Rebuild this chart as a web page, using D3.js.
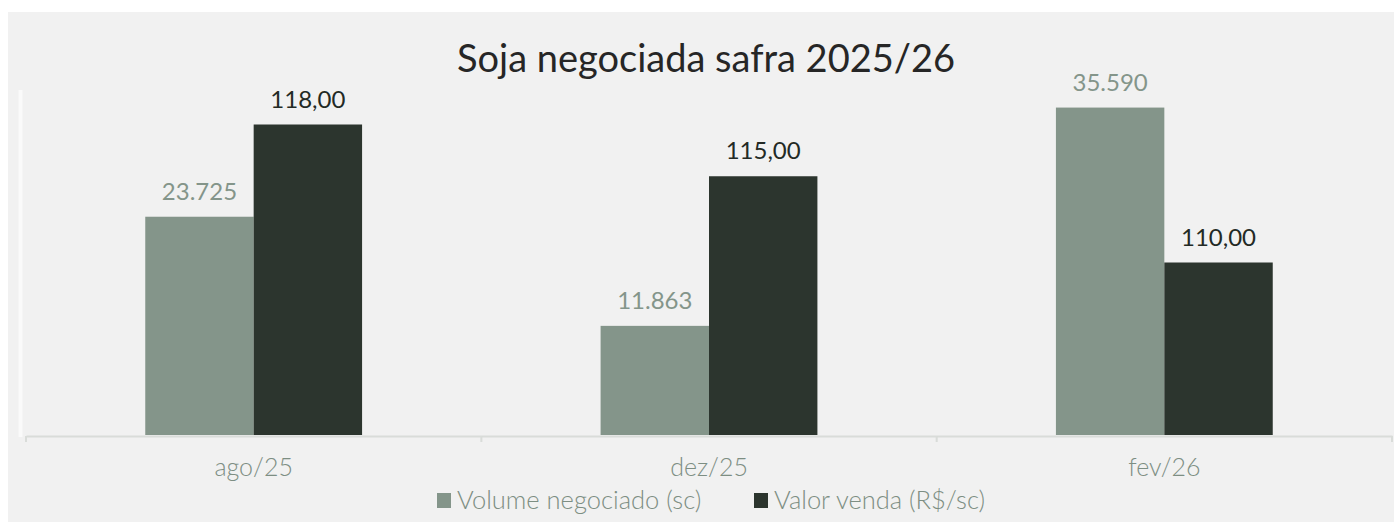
<!DOCTYPE html>
<html>
<head>
<meta charset="utf-8">
<script src="https://cdn.jsdelivr.net/npm/d3@7"></script>
<style>
  body { margin: 0; background: #ffffff; }
  svg { display: block; font-family: "Lato", "Open Sans", sans-serif; }
</style>
</head>
<body>
<svg width="1394" height="522"></svg>
<script>
// chart data
const categories = ["ago/25", "dez/25", "fev/26"];
const volume = [23725, 11863, 35590];
const valor = [118.00, 115.00, 110.00];
const seriesNames = ["Volume negociado (sc)", "Valor venda (R$/sc)"];
const seriesColors = ["#84958a", "#2c352e"];
const labelColors = ["#84958a", "#232a25"];

const svg = d3.select("svg");

// panel background
svg.append("rect")
    .attr("x", 8)
    .attr("y", 12)
    .attr("width", 1386)
    .attr("height", 510)
    .attr("fill", "#f1f1f1");

// plot area
const plot = { left: 26, right: 1392, top: 90, bottom: 435 };

const x = d3.scaleBand()
    .domain(categories)
    .range([plot.left, plot.right]);

const inner = d3.scaleBand()
    .domain([0, 1])
    .range([0, x.bandwidth()])
    .paddingOuter(1.1);

// two hidden value axes (primary for volume, secondary for price)
const yVol = d3.scaleLinear().domain([0, 37500]).range([plot.bottom, plot.top]);
const yVal = d3.scaleLinear().domain([100, 120]).range([plot.bottom, plot.top]);

// faint vertical line at the left of the plot
svg.append("line")
    .attr("x1", 20.5).attr("x2", 20.5)
    .attr("y1", plot.top).attr("y2", plot.bottom + 2)
    .attr("stroke", "#fafafa")
    .attr("stroke-width", 4);

// title
svg.append("text")
    .attr("x", 706)
    .attr("y", 72)
    .attr("text-anchor", "middle")
    .attr("font-size", "38px")
    .attr("fill", "#262626")
    .text("Soja negociada safra 2025/26");

const rows = categories.map((c, i) => ({ cat: c, vals: [volume[i], valor[i]] }));
const scales = [yVol, yVal];
const ptBR = d3.formatLocale({ decimal: ",", thousands: ".", grouping: [3] });
const fmt = [ptBR.format(",.0f"), ptBR.format(",.2f")];

const groups = svg.selectAll(".grp")
    .data(rows)
    .enter()
    .append("g")
    .attr("class", "grp")
    .attr("transform", d => `translate(${x(d.cat)},0)`);

groups.selectAll("rect")
    .data(d => d.vals.map((v, s) => ({ v, s })))
    .enter()
    .append("rect")
    .attr("x", d => inner(d.s))
    .attr("width", inner.bandwidth())
    .attr("y", d => scales[d.s](d.v))
    .attr("height", d => plot.bottom - scales[d.s](d.v))
    .attr("fill", d => seriesColors[d.s]);

groups.selectAll("text")
    .data(d => d.vals.map((v, s) => ({ v, s })))
    .enter()
    .append("text")
    .attr("x", d => inner(d.s) + inner.bandwidth() / 2)
    .attr("y", d => scales[d.s](d.v) - 17)
    .attr("text-anchor", "middle")
    .attr("font-size", "24px")
    .attr("fill", d => labelColors[d.s])
    .text(d => fmt[d.s](d.v));

// category axis
const xAxis = svg.append("g")
    .attr("transform", `translate(0,${plot.bottom + 1})`)
    .call(d3.axisBottom(x).tickSize(0).tickPadding(22));

xAxis.select(".domain")
    .attr("stroke", "#d9dcd9")
    .attr("stroke-width", 2);

xAxis.selectAll("text")
    .attr("font-family", "Lato, sans-serif")
    .attr("font-size", "25px")
    .attr("font-weight", 300)
    .attr("fill", "#7d8e83");

// tick marks between categories
xAxis.selectAll(".sep")
    .data(d3.range(categories.length + 1))
    .enter()
    .append("line")
    .attr("class", "sep")
    .attr("x1", i => plot.left + i * x.step())
    .attr("x2", i => plot.left + i * x.step())
    .attr("y1", 0)
    .attr("y2", 6)
    .attr("stroke", "#d9dcd9")
    .attr("stroke-width", 2);

// legend
const legendX = [437, 754];
const legend = svg.selectAll(".leg")
    .data(seriesNames)
    .enter()
    .append("g")
    .attr("class", "leg")
    .attr("transform", (d, i) => `translate(${legendX[i]},493)`);

legend.append("rect")
    .attr("width", 14)
    .attr("height", 15)
    .attr("fill", (d, i) => seriesColors[i]);

legend.append("text")
    .attr("x", 20)
    .attr("y", 16)
    .attr("font-size", "25.5px")
    .attr("font-weight", 300)
    .attr("fill", "#7d8e83")
    .text(d => d);
</script>
</body>
</html>
